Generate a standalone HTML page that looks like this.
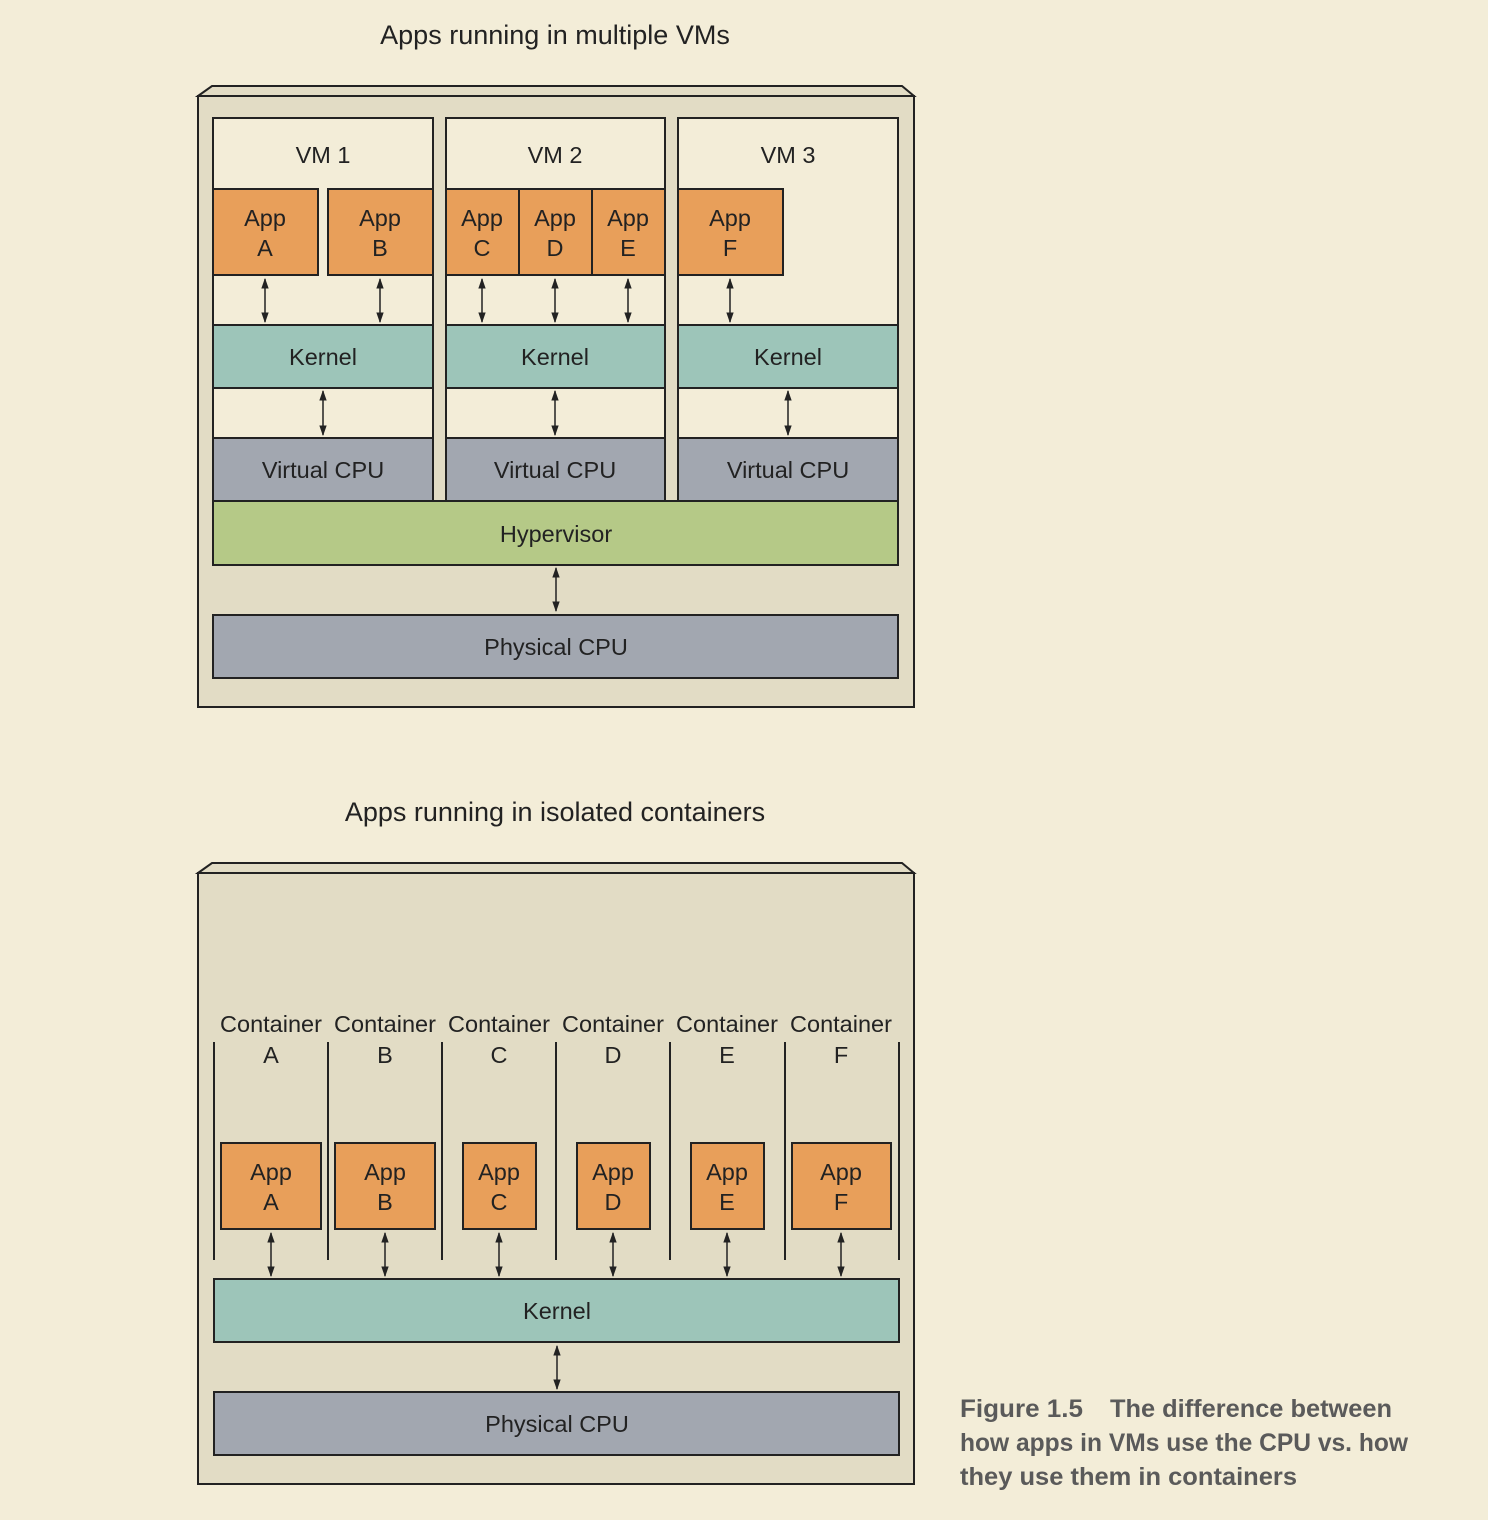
<!DOCTYPE html>
<html><head><meta charset="utf-8"><style>
html,body{margin:0;padding:0;background:#f3edd8;}
svg{display:block;font-family:"Liberation Sans",sans-serif;}
</style></head><body>
<svg width="1488" height="1520" viewBox="0 0 1488 1520">
<defs>
<marker id="ah" viewBox="0 0 10 10" refX="9" refY="5" markerWidth="7" markerHeight="9" orient="auto-start-reverse"><path d="M0,1.5 L10,5 L0,8.5 z" fill="#222"/></marker>
</defs>
<rect width="1488" height="1520" fill="#f3edd8"/>
<g stroke="#222" stroke-width="2" font-size="23.5" fill="#222">
<text x="555" y="44" font-size="27" text-anchor="middle" stroke="none">Apps running in multiple VMs</text>
<polygon points="198,96 212,86 902,86 914,96" fill="#e2dcc5"/>
<rect x="198" y="96" width="716" height="611" fill="#e2dcc5"/>
<g>
<rect x="213" y="118" width="220" height="383" fill="#f3edd8"/>
<text x="323" y="163" text-anchor="middle" stroke="none">VM 1</text>
</g>
<g>
<rect x="446" y="118" width="219" height="383" fill="#f3edd8"/>
<text x="555" y="163" text-anchor="middle" stroke="none">VM 2</text>
</g>
<g>
<rect x="678" y="118" width="220" height="383" fill="#f3edd8"/>
<text x="788" y="163" text-anchor="middle" stroke="none">VM 3</text>
</g>
<g fill="#e89f5a">
<rect x="213" y="189" width="105" height="86"/>
<rect x="328" y="189" width="105" height="86"/>
<rect x="446" y="189" width="73" height="86"/>
<rect x="519" y="189" width="73" height="86"/>
<rect x="592" y="189" width="73" height="86"/>
<rect x="678" y="189" width="105" height="86"/>
</g>
<g stroke="none" text-anchor="middle">
<text x="265" y="226">App</text><text x="265" y="256">A</text>
<text x="380" y="226">App</text><text x="380" y="256">B</text>
<text x="482" y="226">App</text><text x="482" y="256">C</text>
<text x="555" y="226">App</text><text x="555" y="256">D</text>
<text x="628" y="226">App</text><text x="628" y="256">E</text>
<text x="730" y="226">App</text><text x="730" y="256">F</text>
</g>
<g fill="#9dc5b9">
<rect x="213" y="325" width="220" height="63"/>
<rect x="446" y="325" width="219" height="63"/>
<rect x="678" y="325" width="220" height="63"/>
</g>
<g fill="#a2a7b0">
<rect x="213" y="438" width="220" height="63"/>
<rect x="446" y="438" width="219" height="63"/>
<rect x="678" y="438" width="220" height="63"/>
</g>
<rect x="213" y="501" width="685" height="64" fill="#b5c987"/>
<rect x="213" y="615" width="685" height="63" fill="#a2a7b0"/>
<g stroke="none" text-anchor="middle">
<text x="323" y="365">Kernel</text><text x="555" y="365">Kernel</text><text x="788" y="365">Kernel</text>
<text x="323" y="478">Virtual CPU</text><text x="555" y="478">Virtual CPU</text><text x="788" y="478">Virtual CPU</text>
<text x="556" y="542">Hypervisor</text>
<text x="556" y="655">Physical CPU</text>
</g>
<g stroke-width="1.5" marker-start="url(#ah)" marker-end="url(#ah)">
<line x1="265" y1="279" x2="265" y2="322"/><line x1="380" y1="279" x2="380" y2="322"/>
<line x1="482" y1="279" x2="482" y2="322"/><line x1="555" y1="279" x2="555" y2="322"/>
<line x1="628" y1="279" x2="628" y2="322"/><line x1="730" y1="279" x2="730" y2="322"/>
<line x1="323" y1="391" x2="323" y2="435"/><line x1="555" y1="391" x2="555" y2="435"/>
<line x1="788" y1="391" x2="788" y2="435"/>
<line x1="556" y1="568" x2="556" y2="611"/>
</g>

<text x="555" y="821" font-size="27" text-anchor="middle" stroke="none">Apps running in isolated containers</text>
<polygon points="198,873 212,863 902,863 914,873" fill="#e2dcc5"/>
<rect x="198" y="873" width="716" height="611" fill="#e2dcc5"/>
<g>
<line x1="214" y1="1042" x2="214" y2="1260"/><line x1="328" y1="1042" x2="328" y2="1260"/>
<line x1="442" y1="1042" x2="442" y2="1260"/><line x1="556" y1="1042" x2="556" y2="1260"/>
<line x1="670" y1="1042" x2="670" y2="1260"/><line x1="785" y1="1042" x2="785" y2="1260"/>
<line x1="899" y1="1042" x2="899" y2="1260"/>
</g>
<g stroke="none" text-anchor="middle">
<text x="271" y="1032">Container</text><text x="271" y="1063">A</text>
<text x="385" y="1032">Container</text><text x="385" y="1063">B</text>
<text x="499" y="1032">Container</text><text x="499" y="1063">C</text>
<text x="613" y="1032">Container</text><text x="613" y="1063">D</text>
<text x="727" y="1032">Container</text><text x="727" y="1063">E</text>
<text x="841" y="1032">Container</text><text x="841" y="1063">F</text>
</g>
<g fill="#e89f5a">
<rect x="221" y="1143" width="100" height="86"/>
<rect x="335" y="1143" width="100" height="86"/>
<rect x="463" y="1143" width="73" height="86"/>
<rect x="577" y="1143" width="73" height="86"/>
<rect x="691" y="1143" width="73" height="86"/>
<rect x="792" y="1143" width="99" height="86"/>
</g>
<g stroke="none" text-anchor="middle">
<text x="271" y="1180">App</text><text x="271" y="1210">A</text>
<text x="385" y="1180">App</text><text x="385" y="1210">B</text>
<text x="499" y="1180">App</text><text x="499" y="1210">C</text>
<text x="613" y="1180">App</text><text x="613" y="1210">D</text>
<text x="727" y="1180">App</text><text x="727" y="1210">E</text>
<text x="841" y="1180">App</text><text x="841" y="1210">F</text>
</g>
<rect x="214" y="1279" width="685" height="63" fill="#9dc5b9"/>
<rect x="214" y="1392" width="685" height="63" fill="#a2a7b0"/>
<g stroke="none" text-anchor="middle">
<text x="557" y="1319">Kernel</text>
<text x="557" y="1432">Physical CPU</text>
</g>
<g stroke-width="1.5" marker-start="url(#ah)" marker-end="url(#ah)">
<line x1="271" y1="1233" x2="271" y2="1276"/><line x1="385" y1="1233" x2="385" y2="1276"/>
<line x1="499" y1="1233" x2="499" y2="1276"/><line x1="613" y1="1233" x2="613" y2="1276"/>
<line x1="727" y1="1233" x2="727" y2="1276"/><line x1="841" y1="1233" x2="841" y2="1276"/>
<line x1="557" y1="1346" x2="557" y2="1389"/>
</g>
</g>
<g font-size="25" font-weight="bold" fill="#5a5a5a">
<text x="960" y="1417" textLength="123" lengthAdjust="spacingAndGlyphs">Figure 1.5</text>
<text x="1110" y="1417" textLength="282" lengthAdjust="spacingAndGlyphs">The difference between</text>
<text x="960" y="1451" textLength="448" lengthAdjust="spacingAndGlyphs">how apps in VMs use the CPU vs. how</text>
<text x="960" y="1485" textLength="337" lengthAdjust="spacingAndGlyphs">they use them in containers</text>
</g>
</svg>
</body></html>
